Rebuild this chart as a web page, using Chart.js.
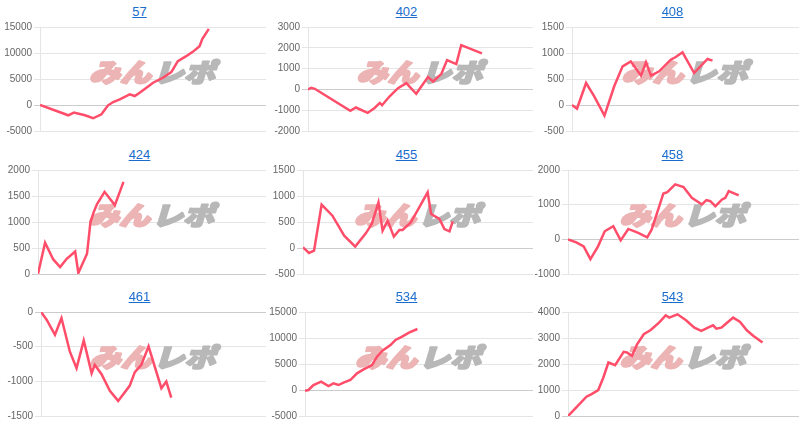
<!DOCTYPE html>
<html><head><meta charset="utf-8">
<script src="https://cdn.jsdelivr.net/npm/chart.js@4"></script>
<style>
html,body{margin:0;padding:0;background:#fff;}
#wrap{position:relative;width:800px;height:428px;overflow:hidden;background:#fff;}
.cell{position:absolute;}
.cell a{position:absolute;top:4px;left:12px;right:0;text-align:center;font:13px "Liberation Sans",Arial,sans-serif;color:#1a6dcc;text-decoration:underline;}
.cell canvas{position:absolute;left:0;top:0;}
</style></head><body>
<div id="wrap"></div>
<script>
// ---- data ----
const titles = ["57","402","408","424","455","458","461","534","543"];
const yMin  = [-5000,-2000,-500,0,-500,-1000,-1500,-5000,0];
const yMax  = [15000,3000,1500,2000,1500,2000,0,15000,4000];
const yStep = [5000,1000,500,500,500,1000,500,5000,1000];

const x57 = [0,12.5,15,19.9,23.5,27.2,30.1,32.4,35.3,39.7,41.9,44.1,47.1,50,54.4,58.1,61,64.7,67.6,70.6,71.8,74.7];
const y57 = [0,-1980,-1470,-1980,-2550,-1790,-60,575,1090,2045,1725,2360,3320,4280,5240,6330,8430,9390,10220,11310,12700,14630];

const x402 = [0,1.5,3,18.8,21.3,26.5,29.6,31.9,32.9,36.3,40,43.7,48.1,53.3,55.6,59.3,61.8,65.9,68.1,77.3];
const y402 = [0,80,30,-1030,-870,-1130,-890,-650,-760,-330,60,300,-210,590,380,750,1410,1220,2130,1730];

const x408 = [0,2.2,6.2,9.8,14.3,18.6,22.3,25.9,30.4,32.6,34.8,38.4,43.5,45.7,48.7,53.8,59.7,61.9];
const y408 = [0,-70,423,167,-205,360,744,840,564,820,564,647,872,923,1013,615,885,853];

const x424 = [0,3.1,6.7,9.7,12.6,16.3,17.7,21.5,23,24.4,25.9,29.2,33.7,37.5];
const y424 = [0,600,280,134,293,433,19,389,994,1185,1344,1580,1325,1771];

const x455 = [0,2.6,4.8,8.1,12.8,17.9,22.7,27.3,29.9,32.8,34.6,36.8,39.5,41.9,43.3,46.9,54.2,55.7,59.3,61.5,63.7,65.1];
const y455 = [13,-96,-51,833,622,237,26,282,462,878,333,526,218,346,346,494,1070,654,558,365,320,513];

const x458 = [0,3.6,6.8,9.7,13,15.9,19.6,22.8,26.1,30.4,34.3,36.2,41.3,43,46.4,50,53.6,58,59.9,61.6,63.8,66.7,68.1,69.6,73.9];
const y458 = [0,-87,-203,-570,-203,232,377,-29,300,184,58,280,1323,1362,1584,1507,1198,1005,1130,1101,956,1150,1198,1391,1265];

const x461 = [0,2.5,6.2,9.1,12.8,15.8,19,22.5,23.9,26.9,30.6,34.3,39.4,41.7,44.6,47.8,53.5,55.7,57.9];
const y461 = [0,-111,-328,-87,-569,-810,-410,-882,-762,-897,-1138,-1282,-1065,-868,-762,-496,-1099,-1003,-1234];

const x534 = [0,1.5,3.7,7.1,10.3,12.5,14.7,16.9,19.9,22.8,25.7,29.4,31.6,33.8,37.5,39.7,42.6,45.6,49.3];
const y534 = [-128,0,960,1600,770,1280,960,1410,1920,3200,3970,4810,6410,7500,8650,9620,10260,11030,11730];

const x543 = [0,3.6,8,10.2,13.1,15.3,17.5,20.4,24.1,25.5,27.7,29.9,32.8,35.8,39.4,42.3,43.8,47.4,51.1,54.7,57.7,60.6,62.8,64.2,66.4,68.6,71.5,74.5,77.4,80.3,84.2];
const y543 = [0,332,741,843,997,1482,2058,1955,2466,2441,2313,2760,3144,3310,3591,3872,3783,3911,3681,3399,3272,3399,3489,3361,3399,3566,3783,3617,3297,3080,2824];

const xs = [x57,x402,x408,x424,x455,x458,x461,x534,x543];
const ys = [y57,y402,y408,y424,y455,y458,y461,y534,y543];

// ---- layout / style ----
const cellW = 800/3, cellH = 428/3;
const axisLeft = [40,41,39,38,36,35,41,38,35];
const lineColor = 'rgb(255,77,106)';

const watermark = {
  id:'watermark',
  beforeDatasetsDraw(chart){
    const {ctx, chartArea:a} = chart;
    const cx = (a.left + a.right)/2 - 1, cy = a.top + 45;
    ctx.save();
    ctx.font = 'italic 900 27px "Noto Sans CJK JP"';
    ctx.textBaseline = 'middle';
    ctx.lineJoin = 'round';
    const w1 = ctx.measureText('みん').width, w2 = ctx.measureText('レポ').width;
    const target = 126, gap = 2;
    const sx = (target - gap) / (w1 + w2);
    ctx.translate(cx - target/2, cy);
    ctx.scale(sx, 0.95);
    ctx.lineWidth = 2.2;
    ctx.fillStyle = ctx.strokeStyle = '#ecb4b4';
    ctx.strokeText('みん', 0, 0);
    ctx.fillText('みん', 0, 0);
    ctx.fillStyle = ctx.strokeStyle = '#b8b8b8';
    ctx.strokeText('レポ', w1 + gap/sx, 0);
    ctx.fillText('レポ', w1 + gap/sx, 0);
    ctx.restore();
  }
};

const wrap = document.getElementById('wrap');
titles.forEach((t, i) => {
  const col = i % 3, row = Math.floor(i / 3);
  const cell = document.createElement('div');
  cell.className = 'cell';
  cell.style.left = Math.round(col*cellW) + 'px';
  cell.style.top = Math.round(row*cellH) + 'px';
  cell.style.width = '267px'; cell.style.height = '143px';
  const a = document.createElement('a');
  a.href = '#'; a.textContent = t;
  cell.appendChild(a);
  const cv = document.createElement('canvas');
  cv.width = 267; cv.height = 143;
  cv.style.width = '267px'; cv.style.height = '143px';
  cell.appendChild(cv);
  wrap.appendChild(cell);

  const pts = xs[i].map((x, k) => ({x, y: ys[i][k]}));
  new Chart(cv, {
    type: 'line',
    data: { datasets: [{ data: pts, borderColor: lineColor, borderWidth: 2.5, pointRadius: 0, tension: 0, fill: false }] },
    options: {
      responsive: false, animation: false, events: [],
      layout: { padding: { top: 27, bottom: 12, left: 0, right: 1 } },
      plugins: { legend: { display: false }, tooltip: { enabled: false } },
      scales: {
        x: { type: 'linear', min: 0, max: 100, display: false },
        y: { min: yMin[i], max: yMax[i],
             ticks: { stepSize: yStep[i], color: '#666', padding: 2,
                      callback: (v) => String(v),
                      font: { family: '"Liberation Sans", Arial, sans-serif', size: 10 } },
             grid: { color: (c) => c.tick && c.tick.value === 0 ? 'rgba(0,0,0,0.2)' : 'rgba(0,0,0,0.1)', tickLength: 6 },
             border: { color: 'rgba(0,0,0,0.1)' },
             afterFit: (s) => { s.width = axisLeft[i]; } }
      }
    },
    plugins: [watermark]
  });
});
</script>
</body></html>
